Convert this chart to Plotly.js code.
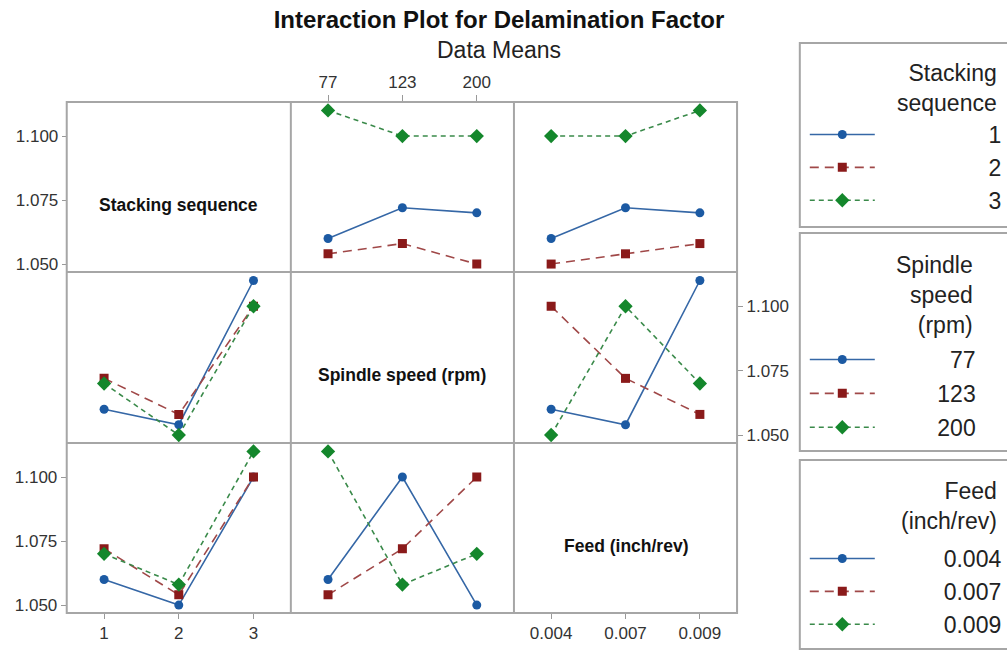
<!DOCTYPE html>
<html><head><meta charset="utf-8">
<script src="https://cdn.plot.ly/plotly-3.0.1.min.js"></script>
<style>html,body{margin:0;padding:0;background:#fff;}#chart{width:1007px;height:652px;}</style>
</head><body><div id="chart"></div>
<script>
// ---- factor levels (tick labels) ----
const stackLevels   = ['1', '2', '3'];
const spindleLevels = ['77', '123', '200'];
const feedLevels    = ['0.004', '0.007', '0.009'];
const levelPos      = [1, 2, 3];

// ---- data means ----
// Row 1: series = Stacking sequence (1, 2, 3)
const stackBySpindle = [[1.060, 1.072, 1.070], [1.054, 1.058, 1.050], [1.110, 1.100, 1.100]];
const stackByFeed    = [[1.060, 1.072, 1.070], [1.050, 1.054, 1.058], [1.100, 1.100, 1.110]];
// Row 2: series = Spindle speed (77, 123, 200)
const spindleByStack = [[1.060, 1.054, 1.110], [1.072, 1.058, 1.100], [1.070, 1.050, 1.100]];
const spindleByFeed  = [[1.060, 1.054, 1.110], [1.100, 1.072, 1.058], [1.050, 1.100, 1.070]];
// Row 3: series = Feed (0.004, 0.007, 0.009)
const feedByStack    = [[1.060, 1.050, 1.100], [1.072, 1.054, 1.100], [1.070, 1.058, 1.110]];
const feedBySpindle  = [[1.060, 1.100, 1.050], [1.054, 1.072, 1.100], [1.110, 1.058, 1.070]];

const factorNames  = ['Stacking sequence', 'Spindle speed (rpm)', 'Feed (inch/rev)'];
const legendTitles = ['Stacking<br>sequence', 'Spindle<br>speed<br>(rpm)', 'Feed<br>(inch/rev)'];
const factorLevels = [stackLevels, spindleLevels, feedLevels];
const panelData = {
  '0,1': stackBySpindle, '0,2': stackByFeed,
  '1,0': spindleByStack, '1,2': spindleByFeed,
  '2,0': feedByStack,    '2,1': feedBySpindle
};

// ---- styles ----
const markerColors = ['#1c5aa3', '#8a1a1a', '#14872c'];
const lineColors   = ['#3567a6', '#a04848', '#3a8a4a'];
const dashes       = ['solid', '9px,6px', '5px,4px'];
const symbols      = ['circle', 'square', 'diamond'];
const msizes       = [9, 9, 11];
const legendIds    = ['legend', 'legend2', 'legend3'];

const W = 1007, H = 652;
const fx = p => p / W, fy = p => 1 - p / H;
const colEdges = [67, 292, 516, 740];
const rowEdges = [102, 272, 443, 613];
const yRange = [1.0469, 1.1133];
const FONT = 'Liberation Sans, Arial, sans-serif';
const tickFont = {family: FONT, size: 17, color: '#333'};
const legFontSize = 23;
const diagLabelDy = 18;   // diagonal labels sit a little below cell centre

// legend geometry (px): left edge, symbol width, right edge of text, top
const legX = 808, legSym = 65;
const legRight = [1003, 979, 1003];
const legTop = [113, 338, 537];
const legTitlePos = [[1003, 88], [979, 295], [1003, 506]];
const legGap = [0, 1, 0];

// right-align legend labels by padding with no-break spaces
const cv = document.createElement('canvas').getContext('2d');
cv.font = legFontSize + 'px "Liberation Sans"';
const nbsp = '\u00a0', spW = cv.measureText(nbsp).width || legFontSize * 0.278;
function padLabel(txt, li) {
  const start = legX + legSym + 10;
  const need = legRight[li] - start - cv.measureText(txt).width;
  return nbsp.repeat(Math.max(0, Math.round(need / spW))) + txt;
}

const traces = [];
const layout = {
  width: W, height: H,
  margin: {l: 0, r: 0, t: 0, b: 0},
  paper_bgcolor: '#fff', plot_bgcolor: '#fff',
  font: {family: FONT, color: '#222'},
  title: {text: '<b>Interaction Plot for Delamination Factor</b>', x: fx(499), xanchor: 'center',
          y: fy(20), yanchor: 'middle', font: {size: 24, color: '#111'}},
  shapes: [], annotations: []
};

for (let r = 0; r < 3; r++) {
  for (let c = 0; c < 3; c++) {
    const p = r * 3 + c + 1;
    const sfx = p === 1 ? '' : String(p);
    const xs = 'x' + sfx, ys = 'y' + sfx;
    // tick labels of the empty diagonal cells are carried by a neighbouring axis
    const showX = (r === 0 && c === 1) || (r === 2 && c === 0) || (r === 1 && c === 2);
    const showY = (r === 0 && c === 1) || (r === 2 && c === 0) || (r === 1 && c === 2);
    const xa = {
      domain: [fx(colEdges[c]), fx(colEdges[c + 1])], anchor: ys,
      range: [0.5, 3.5], showgrid: false, zeroline: false, showline: false, fixedrange: true,
      tickmode: 'array', tickvals: levelPos, ticktext: factorLevels[c],
      ticks: showX ? 'outside' : '', ticklen: 5, tickcolor: '#999', showticklabels: showX,
      side: (r === 0) ? 'top' : 'bottom', tickfont: tickFont
    };
    const ya = {
      domain: [fy(rowEdges[r + 1]), fy(rowEdges[r])], anchor: xs,
      range: yRange, showgrid: false, zeroline: false, showline: false, fixedrange: true,
      tickmode: 'array', tickvals: [1.05, 1.075, 1.1], tickformat: '.3f',
      ticks: showY ? 'outside' : '', ticklen: 5, tickcolor: '#999', showticklabels: showY,
      side: (c === 2) ? 'right' : 'left', tickfont: tickFont
    };
    if (r === 0 && c === 1) { ya.anchor = 'free'; ya.position = fx(colEdges[0]); ya.side = 'left'; }
    if (r === 1 && c === 2) { xa.anchor = 'free'; xa.position = fy(rowEdges[3]); xa.side = 'bottom'; }
    if (r === 0 && c === 1) { xa.ticklen = 6; }
    layout['xaxis' + sfx] = xa;
    layout['yaxis' + sfx] = ya;
    if (r === c) {
      layout.annotations.push({
        text: '<b>' + factorNames[r] + '</b>', xref: 'paper', yref: 'paper',
        x: fx((colEdges[c] + colEdges[c + 1]) / 2),
        y: fy((rowEdges[r] + rowEdges[r + 1]) / 2 + diagLabelDy),
        xanchor: 'center', yanchor: 'middle', showarrow: false, font: {size: 17.5, color: '#111'}
      });
      continue;
    }
    const data = panelData[r + ',' + c];
    for (let s = 0; s < 3; s++) {
      traces.push({
        type: 'scatter', mode: 'lines+markers', xaxis: xs, yaxis: ys,
        x: levelPos, y: data[s], name: padLabel(factorLevels[r][s], r),
        legend: legendIds[r], legendgroup: 'r' + r + 's' + s, showlegend: false,
        line: {color: lineColors[s], width: 1.6, dash: dashes[s]},
        marker: {color: markerColors[s], symbol: symbols[s], size: msizes[s]},
        hovertemplate: factorNames[r] + ' ' + factorLevels[r][s] + ': %{y:.3f}<extra></extra>'
      });
    }
  }
}
const seen = {};
traces.forEach(t => { if (!seen[t.legendgroup]) { seen[t.legendgroup] = 1; t.showlegend = true; } });

// grid of panels
const gridLine = {color: '#a6a6a6', width: 2};
layout.shapes.push({type: 'rect', xref: 'paper', yref: 'paper', x0: fx(67), x1: fx(740), y0: fy(613), y1: fy(102), line: gridLine});
[292, 516].forEach(x => layout.shapes.push({type: 'line', xref: 'paper', yref: 'paper', x0: fx(x), x1: fx(x), y0: fy(613), y1: fy(102), line: gridLine}));
[272, 443].forEach(y => layout.shapes.push({type: 'line', xref: 'paper', yref: 'paper', x0: fx(67), x1: fx(740), y0: fy(y), y1: fy(y), line: gridLine}));
// legend boxes
[[43, 227], [233, 451], [460, 649]].forEach(b => layout.shapes.push({
  type: 'rect', xref: 'paper', yref: 'paper', x0: fx(803), x1: fx(1015), y0: fy(b[1]), y1: fy(b[0]),
  line: {color: '#a6a6a6', width: 2}
}));

// subtitle
layout.annotations.push({text: 'Data Means', xref: 'paper', yref: 'paper', x: fx(501), y: fy(50),
  xanchor: 'center', yanchor: 'middle', showarrow: false, font: {size: 23, color: '#222'}});
// legend titles
legendTitles.forEach((t, i) => layout.annotations.push({text: t, xref: 'paper', yref: 'paper',
  x: fx(legTitlePos[i][0]), y: fy(legTitlePos[i][1]), xanchor: 'right', yanchor: 'middle', align: 'right',
  showarrow: false, font: {size: legFontSize, color: '#222'}}));

legendIds.forEach((id, i) => {
  layout[id] = {x: fx(legX), xanchor: 'left', y: fy(legTop[i]), yanchor: 'top',
    bgcolor: 'rgba(0,0,0,0)', borderwidth: 0, itemwidth: legSym, tracegroupgap: legGap[i],
    font: {size: legFontSize, color: '#222'}, itemclick: false, itemdoubleclick: false};
});

Plotly.newPlot('chart', traces, layout, {displayModeBar: false});
</script>
</body></html>
